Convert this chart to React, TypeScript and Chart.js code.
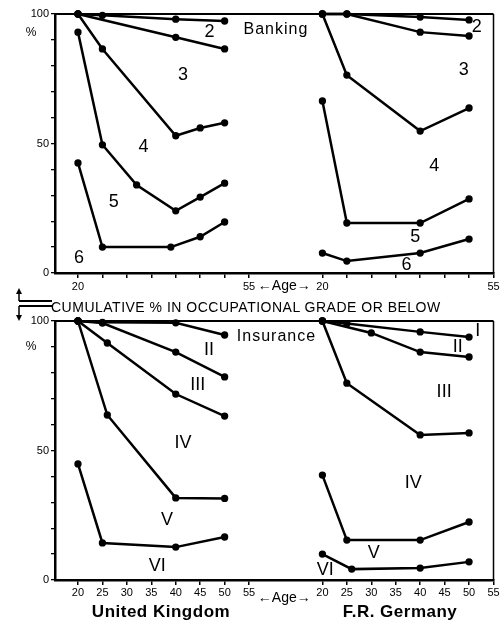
import React, { useEffect, useRef } from "react";
import { Chart, registerables } from "chart.js";

Chart.register(...registerables);

// ---------- axis / tick data ----------
const DE_OFFSET = 50; // Germany panel is drawn 50 "years" to the right of the UK panel
const AGE_TICKS = [20, 25, 30, 35, 40, 45, 50, 55];
const Y_LABELLED = [0, 50, 100];

// ---------- Banking, United Kingdom ----------
const bankUK2Age = [20, 25, 40, 50];
const bankUK2 = [100, 99.5, 98, 97.3];
const bankUK3Age = [20, 40, 50];
const bankUK3 = [100, 91, 86.5];
const bankUK4Age = [20, 25, 40, 45, 50];
const bankUK4 = [100, 86.5, 53, 56, 58];
const bankUK5Age = [20, 25, 32, 40, 45, 50];
const bankUK5 = [93, 49.5, 34, 24, 29.3, 34.7];
const bankUK6Age = [20, 25, 39, 45, 50];
const bankUK6 = [42.5, 10, 10, 14, 19.7];

// ---------- Banking, F.R. Germany ----------
const bankDE2Age = [20, 25, 40, 50];
const bankDE2 = [100, 100, 98.8, 97.7];
const bankDE3Age = [20, 25, 40, 50];
const bankDE3 = [100, 100, 93, 91.5];
const bankDE4Age = [20, 25, 40, 50];
const bankDE4 = [100, 76.4, 54.8, 63.7];
const bankDE5Age = [20, 25, 40, 50];
const bankDE5 = [66.4, 19.3, 19.3, 28.6];
const bankDE6Age = [20, 25, 40, 50];
const bankDE6 = [7.7, 4.6, 7.7, 13.1];

// ---------- Insurance, United Kingdom ----------
const insUK1Age = [20, 25, 40, 50];
const insUK1 = [100, 99.5, 99.3, 94.6];
const insUK2Age = [20, 25, 40, 50];
const insUK2 = [100, 99.2, 88, 78.4];
const insUK3Age = [20, 26, 40, 50];
const insUK3 = [100, 91.5, 71.8, 63.3];
const insUK4Age = [20, 26, 40, 50];
const insUK4 = [100, 63.7, 31.7, 31.5];
const insUK5Age = [20, 25, 40, 50];
const insUK5 = [44.8, 14.3, 12.7, 16.6];

// ---------- Insurance, F.R. Germany ----------
const insDE1Age = [20, 25, 40, 50];
const insDE1 = [100, 99, 95.8, 93.8];
const insDE2Age = [20, 30, 40, 50];
const insDE2 = [100, 95.4, 88, 86.1];
const insDE3Age = [20, 25, 40, 50];
const insDE3 = [100, 76, 56, 56.8];
const insDE4Age = [20, 25, 40, 50];
const insDE4 = [40.5, 15.4, 15.4, 22.4];
const insDE5Age = [20, 26, 40, 50];
const insDE5 = [10, 4.2, 4.6, 7];

// ---------- in-plot labels (text, age on combined axis, %) ----------
const bankLabelText = ["Banking", "2", "3", "4", "5", "6", "2", "3", "4", "5", "6"];
const bankLabelX = [60.5, 46.9, 41.5, 33.4, 27.3, 20.2, 101.6, 98.9, 92.9, 89, 87.2];
const bankLabelY = [93.8, 93, 76.4, 48.6, 27.4, 5.8, 95, 78.4, 41.3, 13.9, 3.1];

const insLabelText = ["Insurance", "II", "III", "IV", "V", "VI", "I", "II", "III", "IV", "V", "VI"];
const insLabelX = [60.6, 46.8, 44.5, 41.5, 38.2, 36.2, 101.8, 97.7, 94.9, 88.6, 80.5, 70.6];
const insLabelY = [93.8, 88.8, 75.3, 52.9, 23.2, 5.4, 96.3, 90, 72.6, 37.5, 10.4, 3.9];

const FONT = "'Liberation Sans', Arial, Helvetica, sans-serif";

type Series = { ages: number[]; values: number[]; offset: number };

function buildDatasets(series: Series[]) {
  return series.map((s) => ({
    data: s.ages.map((a, i) => ({ x: a + s.offset, y: s.values[i] })),
    borderColor: "#000",
    backgroundColor: "#000",
    pointBackgroundColor: "#000",
    pointBorderColor: "#000",
    pointRadius: 2.4,
    borderWidth: 2.5,
    tension: 0,
    clip: false as const,
  }));
}

const bankSeries: Series[] = [
  { ages: bankUK2Age, values: bankUK2, offset: 0 },
  { ages: bankUK3Age, values: bankUK3, offset: 0 },
  { ages: bankUK4Age, values: bankUK4, offset: 0 },
  { ages: bankUK5Age, values: bankUK5, offset: 0 },
  { ages: bankUK6Age, values: bankUK6, offset: 0 },
  { ages: bankDE2Age, values: bankDE2, offset: DE_OFFSET },
  { ages: bankDE3Age, values: bankDE3, offset: DE_OFFSET },
  { ages: bankDE4Age, values: bankDE4, offset: DE_OFFSET },
  { ages: bankDE5Age, values: bankDE5, offset: DE_OFFSET },
  { ages: bankDE6Age, values: bankDE6, offset: DE_OFFSET },
];

const insSeries: Series[] = [
  { ages: insUK1Age, values: insUK1, offset: 0 },
  { ages: insUK2Age, values: insUK2, offset: 0 },
  { ages: insUK3Age, values: insUK3, offset: 0 },
  { ages: insUK4Age, values: insUK4, offset: 0 },
  { ages: insUK5Age, values: insUK5, offset: 0 },
  { ages: insDE1Age, values: insDE1, offset: DE_OFFSET },
  { ages: insDE2Age, values: insDE2, offset: DE_OFFSET },
  { ages: insDE3Age, values: insDE3, offset: DE_OFFSET },
  { ages: insDE4Age, values: insDE4, offset: DE_OFFSET },
  { ages: insDE5Age, values: insDE5, offset: DE_OFFSET },
];

type PanelCfg = {
  series: Series[];
  labelText: string[];
  labelX: number[];
  labelY: number[];
  allTickLabels: boolean;
  padTop: number;
  xAxisHeight: number;
  pctOffset: number;
  ageDy: number;
  tickPad: number;
};

function makeChart(canvas: HTMLCanvasElement, cfg: PanelCfg) {
  const xTickValues = [
    ...AGE_TICKS,
    ...AGE_TICKS.map((a) => a + DE_OFFSET),
  ];
  const decor = {
    id: "decor",
    afterDatasetsDraw(chart: any) {
      const { ctx, chartArea: ca, scales } = chart;
      const xs = scales.x;
      const ys = scales.y;
      ctx.save();
      // frame: top and right
      ctx.strokeStyle = "#000";
      ctx.lineWidth = 2;
      ctx.beginPath();
      ctx.moveTo(ca.left, ca.top);
      ctx.lineTo(ca.right, ca.top);
      ctx.stroke();
      ctx.lineWidth = 1.5;
      ctx.beginPath();
      ctx.moveTo(ca.right, ca.top);
      ctx.lineTo(ca.right, ca.bottom);
      ctx.stroke();
      // labels in plot
      ctx.fillStyle = "#000";
      ctx.textAlign = "center";
      ctx.textBaseline = "middle";
      cfg.labelText.forEach((t, i) => {
        const long = t.length > 3;
        ctx.font = long ? `16px ${FONT}` : `18px ${FONT}`;
        (ctx as any).letterSpacing = long ? "1px" : "0px";
        ctx.fillText(t, xs.getPixelForValue(cfg.labelX[i]), ys.getPixelForValue(cfg.labelY[i]));
      });
      (ctx as any).letterSpacing = "0px";
      // % sign
      ctx.font = `12px ${FONT}`;
      ctx.fillText("%", ca.left - 24, ca.top + cfg.pctOffset);
      // age arrow text between panels
      ctx.font = `14px ${FONT}`;
      ctx.fillText("\u2190Age\u2192", xs.getPixelForValue(62.2), ca.bottom + cfg.ageDy);
      ctx.restore();
    },
  };

  return new Chart(canvas, {
    type: "line",
    data: { datasets: buildDatasets(cfg.series) as any },
    options: {
      responsive: false,
      animation: false,
      events: [],
      layout: { padding: { top: cfg.padTop, right: 2, left: 0, bottom: 0 } },
      plugins: { legend: { display: false }, tooltip: { enabled: false } },
      scales: {
        x: {
          type: "linear",
          min: 15.3,
          max: 105,
          afterBuildTicks: (s: any) => {
            s.ticks = xTickValues.map((v) => ({ value: v }));
          },
          afterFit: (s: any) => {
            s.height = cfg.xAxisHeight;
            s.paddingLeft = 0;
            s.paddingRight = 0;
          },
          ticks: {
            autoSkip: false,
            maxRotation: 0,
            minRotation: 0,
            padding: cfg.tickPad,
            color: "#000",
            font: { family: FONT, size: 11 },
            callback: (v: any) => {
              const val = Number(v);
              const age = val > 60 ? val - DE_OFFSET : val;
              if (!cfg.allTickLabels && age !== 20 && age !== 55) return "";
              return String(age);
            },
          },
          grid: {
            drawOnChartArea: false,
            drawTicks: true,
            tickLength: 5,
            color: "#000",
            lineWidth: 1.5,
          },
          border: { display: true, color: "#000", width: 2.5 },
        },
        y: {
          type: "linear",
          min: 0,
          max: 100,
          afterFit: (s: any) => {
            s.width = 55;
          },
          ticks: {
            stepSize: 10,
            padding: 2,
            color: "#000",
            font: { family: FONT, size: 11 },
            callback: (v: any) => (Y_LABELLED.includes(Number(v)) ? String(v) : ""),
          },
          grid: {
            drawOnChartArea: false,
            drawTicks: true,
            tickLength: 4,
            color: "#000",
            lineWidth: 1.3,
          },
          border: { display: true, color: "#000", width: 2.5 },
        },
      },
    },
    plugins: [decor],
  });
}

const bankCfg: PanelCfg = {
  series: bankSeries,
  labelText: bankLabelText,
  labelX: bankLabelX,
  labelY: bankLabelY,
  allTickLabels: false,
  padTop: 14,
  xAxisHeight: 27,
  pctOffset: 19,
  ageDy: 13,
  tickPad: 2,
};

const insCfg: PanelCfg = {
  series: insSeries,
  labelText: insLabelText,
  labelX: insLabelX,
  labelY: insLabelY,
  allTickLabels: true,
  padTop: 11,
  xAxisHeight: 30,
  pctOffset: 26,
  ageDy: 18,
  tickPad: 1,
};

function Panel({ cfg, top }: { cfg: PanelCfg; top: number }) {
  const ref = useRef<HTMLCanvasElement | null>(null);
  useEffect(() => {
    if (!ref.current) return;
    const chart = makeChart(ref.current, cfg);
    return () => chart.destroy();
  }, [cfg]);
  return (
    <canvas
      ref={ref}
      width={500}
      height={300}
      style={{ position: "absolute", left: 0, top, width: 500, height: 300 }}
    />
  );
}

export default function App() {
  return (
    <div
      style={{
        position: "absolute",
        left: 0,
        top: 0,
        width: 500,
        height: 624,
        background: "#fff",
        fontFamily: FONT,
        overflow: "hidden",
      }}
    >
      <Panel cfg={bankCfg} top={0} />
      <Panel cfg={insCfg} top={310} />
      <svg
        width={60}
        height={40}
        style={{ position: "absolute", left: 0, top: 286 }}
      >
        <g stroke="#000" fill="#000">
          <line x1={19} y1={15} x2={52} y2={15} strokeWidth={2} />
          <line x1={19} y1={20} x2={52} y2={20} strokeWidth={2} />
          <line x1={19} y1={15} x2={19} y2={7} strokeWidth={1.5} />
          <polygon points="16,8 22,8 19,2" stroke="none" />
          <line x1={19} y1={20} x2={19} y2={30} strokeWidth={1.5} />
          <polygon points="16,29 22,29 19,35" stroke="none" />
        </g>
      </svg>
      <div
        style={{
          position: "absolute",
          left: 51,
          top: 300,
          fontSize: 14,
          lineHeight: "14px",
          letterSpacing: "0.5px",
          whiteSpace: "nowrap",
          color: "#000",
        }}
      >
        CUMULATIVE % IN OCCUPATIONAL GRADE OR BELOW
      </div>
      <div
        style={{
          position: "absolute",
          left: 161,
          top: 612,
          transform: "translate(-50%, -50%)",
          fontSize: 17,
          letterSpacing: "0.5px",
          fontWeight: "bold",
          whiteSpace: "nowrap",
          color: "#000",
        }}
      >
        United Kingdom
      </div>
      <div
        style={{
          position: "absolute",
          left: 400,
          top: 612,
          transform: "translate(-50%, -50%)",
          fontSize: 17,
          letterSpacing: "0.5px",
          fontWeight: "bold",
          whiteSpace: "nowrap",
          color: "#000",
        }}
      >
        F.R. Germany
      </div>
    </div>
  );
}
